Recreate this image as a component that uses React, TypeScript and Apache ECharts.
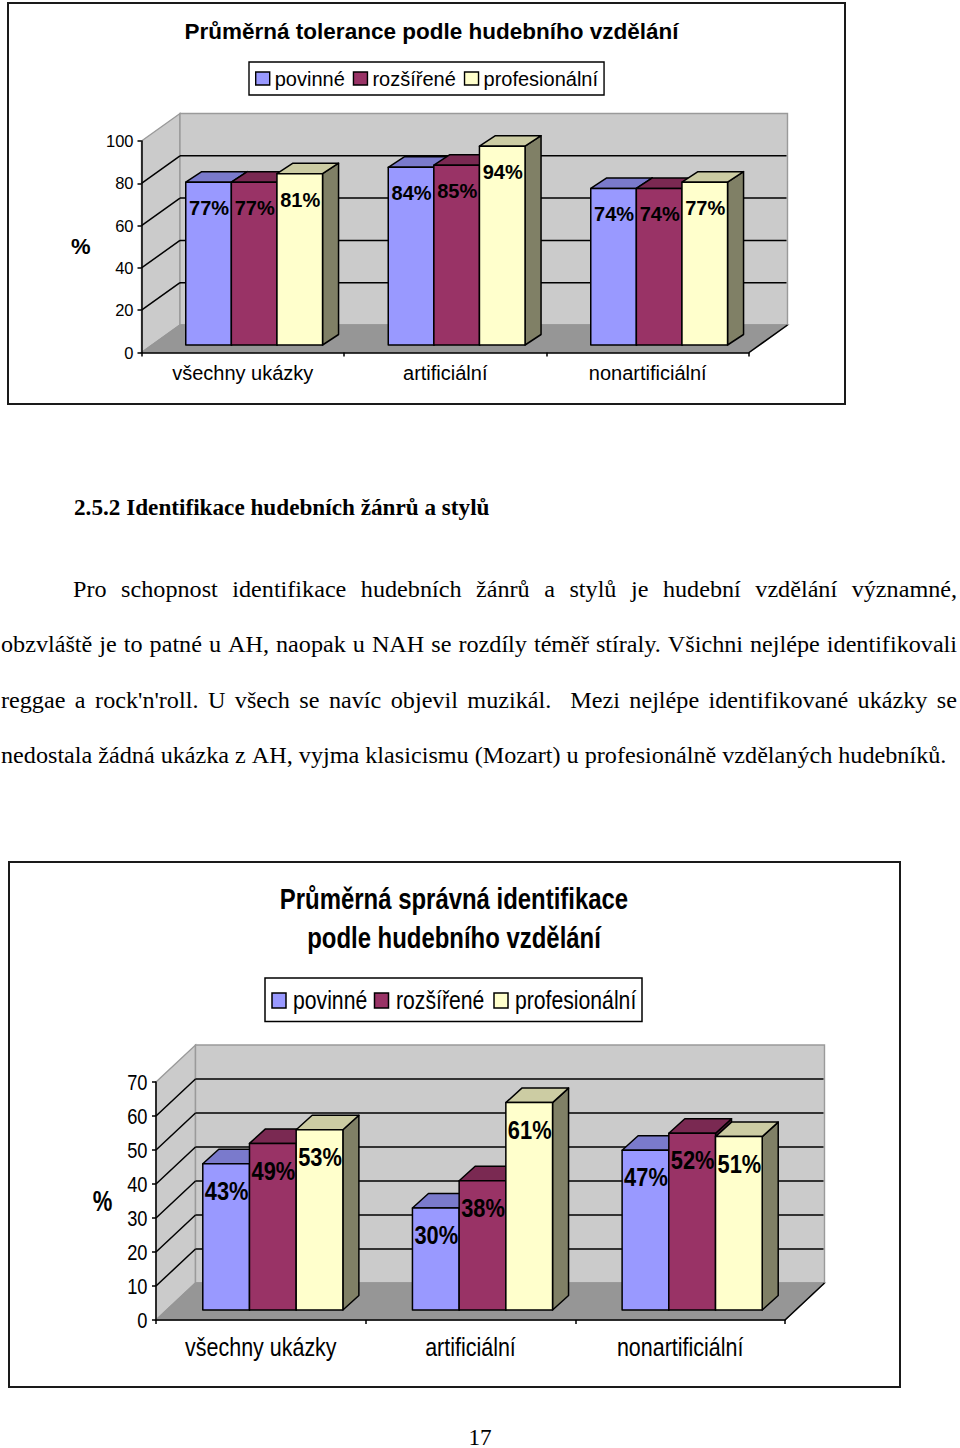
import React, { useEffect, useRef } from "react";
import * as echarts from "echarts";

const categories = ["všechny ukázky", "artificiální", "nonartificiální"];
const seriesNames = ["povinné", "rozšířené", "profesionální"];

const toleranceBasic = [77, 84, 74];
const toleranceExtended = [77, 85, 74];
const toleranceProfessional = [81, 94, 77];

const identificationBasic = [43, 30, 47];
const identificationExtended = [49, 38, 52];
const identificationProfessional = [53, 61, 51];

const toleranceTicks = [0, 20, 40, 60, 80, 100];
const identificationTicks = [0, 10, 20, 30, 40, 50, 60, 70];

const toleranceTitle = "Průměrná tolerance podle hudebního vzdělání";
const identificationTitleLines = ["Průměrná správná identifikace", "podle hudebního vzdělání"];
const axisName = "%";
const heading = "2.5.2 Identifikace hudebních žánrů a stylů";
const paragraphLines = [
  "Pro schopnost identifikace hudebních žánrů a stylů je hudební vzdělání významné,",
  "obzvláště je to patné u AH, naopak u NAH se rozdíly téměř stíraly. Všichni nejlépe identifikovali",
  "reggae a rock'n'roll. U všech se navíc objevil muzikál.  Mezi nejlépe identifikované ukázky se",
  "nedostala žádná ukázka z AH, vyjma klasicismu (Mozart) u profesionálně vzdělaných hudebníků.",
];
const pageNumber = "17";

const faceColors = ["#9999FF", "#993366", "#FFFFCC"];
const topColors = ["#7A7ACC", "#7A2952", "#CCCCA3"];
const sideColors = ["#4D4D80", "#4D1A33", "#808066"];
const WALL = "#CBCBCB";
const FLOOR = "#969696";
const WALL_EDGE = "#9A9A9A";
const SERIF = "'Liberation Serif', 'Times New Roman', serif";
const SANS = "'Liberation Sans', Arial, sans-serif";

type Geometry = {
  backX: number; backY: number; barW: number; offX: number; offY: number;
  depthX: number; depthY: number; labelDy: number; labelSize: number; labelScale: number; lw: number;
};

const geomA: Geometry = { backX: 38.5, backY: 27.5, barW: 45.6, offX: 11.4, offY: 7.5, depthX: 16, depthY: 10.5, labelDy: 26, labelSize: 20, labelScale: 1, lw: 1.5 };
const geomB: Geometry = { backX: 39.5, backY: 37, barW: 46.7, offX: 12, offY: 10, depthX: 16, depthY: 14.5, labelDy: 27, labelSize: 26, labelScale: 0.84, lw: 1.5 };

function squeezed(text: string, x: number, y: number, size: number, scale: number, bold: boolean, align: string): any {
  return {
    type: "text",
    x,
    y,
    scaleX: scale,
    style: {
      text,
      fill: "#000",
      fontFamily: SANS,
      fontSize: size,
      fontWeight: bold ? "bold" : "normal",
      textAlign: align,
      textVerticalAlign: "middle",
    },
  };
}

function wallsSeries(gridIndex: number, ticks: number[], g: Geometry, squeezedAxis: boolean): any {
  return {
    type: "custom",
    name: "walls",
    xAxisIndex: gridIndex,
    yAxisIndex: gridIndex,
    z: 1,
    silent: true,
    data: [[0, 0]],
    encode: { x: 0, y: 1 },
    renderItem: (params: any, api: any) => {
      const cs = params.coordSys;
      const L = cs.x;
      const R = cs.x + cs.width;
      const T = cs.y;
      const B = cs.y + cs.height;
      const dx = g.backX;
      const dy = g.backY;
      const poly = (points: number[][], fill: string, stroke: string) => ({
        type: "polygon",
        shape: { points },
        style: { fill, stroke, lineWidth: 1.4 },
      });
      const children: any[] = [
        poly([[L, T], [L + dx, T - dy], [L + dx, B - dy], [L, B]], WALL, WALL_EDGE),
        poly([[L + dx, T - dy], [R + dx, T - dy], [R + dx, B - dy], [L + dx, B - dy]], WALL, WALL_EDGE),
        poly([[L, B], [L + dx, B - dy], [R + dx, B - dy], [R, B]], FLOOR, FLOOR),
        { type: "line", shape: { x1: R, y1: B, x2: R + dx, y2: B - dy }, style: { stroke: "#000", lineWidth: 1.5 } },
      ];
      ticks.slice(1, -1).forEach((t) => {
        const y = api.coord([0, t])[1];
        children.push({ type: "line", shape: { x1: L, y1: y, x2: L + dx, y2: y - dy }, style: { stroke: "#000", lineWidth: 1.5 } });
        children.push({ type: "line", shape: { x1: L + dx, y1: y - dy, x2: R + dx - 1, y2: y - dy }, style: { stroke: "#000", lineWidth: 1.5 } });
      });
      if (squeezedAxis) {
        ticks.forEach((t) => {
          children.push(squeezed(String(t), L - 8.5, api.coord([0, t])[1], 22, 0.83, false, "right"));
        });
        categories.forEach((c, i) => {
          children.push(squeezed(c, api.coord([i, 0])[0], B + 27, 26, 0.826, false, "center"));
        });
        children.push(squeezed(axisName, L - 53.5, (T + B) / 2, 29, 0.76, true, "center"));
      }
      return { type: "group", children };
    },
  };
}

function barSeries(gridIndex: number, idx: number, values: number[], g: Geometry): any {
  return {
    type: "custom",
    name: seriesNames[idx],
    xAxisIndex: gridIndex,
    yAxisIndex: gridIndex,
    z: 2 + idx,
    itemStyle: { color: faceColors[idx] },
    data: values.map((v, i) => [i, v]),
    encode: { x: 0, y: 1 },
    renderItem: (_params: any, api: any) => {
      const cat = api.value(0);
      const val = api.value(1);
      const top = api.coord([cat, val]);
      const base = api.coord([cat, 0]);
      const x0 = top[0] + (idx - 1.5) * g.barW + g.offX;
      const x1 = x0 + g.barW;
      const yT = top[1] - g.offY;
      const yB = base[1] - g.offY;
      const { depthX: dx, depthY: dy } = g;
      const edge = { stroke: "#000", lineWidth: g.lw, lineJoin: "round" };
      return {
        type: "group",
        children: [
          { type: "polygon", shape: { points: [[x1, yT], [x1 + dx, yT - dy], [x1 + dx, yB - dy], [x1, yB]] }, style: { fill: sideColors[idx], ...edge } },
          { type: "polygon", shape: { points: [[x0, yT], [x0 + dx, yT - dy], [x1 + dx, yT - dy], [x1, yT]] }, style: { fill: topColors[idx], ...edge } },
          { type: "rect", shape: { x: x0, y: yT, width: g.barW, height: yB - yT }, style: { fill: faceColors[idx], ...edge } },
          squeezed(`${val}%`, (x0 + x1) / 2 + 0.5, yT + g.labelDy, g.labelSize, g.labelScale, true, "center"),
        ],
      };
    },
  };
}

function measure(text: string, font: string): number {
  const ctx = document.createElement("canvas").getContext("2d") as CanvasRenderingContext2D;
  ctx.font = font;
  return ctx.measureText(text).width;
}

const TEXT_SIZE = 23.2;
const TEXT_STRETCH = 1.042;

function lineWords(line: string, left: number, right: number | null, y: number): any[] {
  const font = `${TEXT_SIZE}px ${SERIF}`;
  const tokens = line.split(" ");
  const words = tokens.filter((t) => t.length > 0);
  const gaps = tokens.length - 1;
  const wordW = words.reduce((s, w) => s + measure(w, font) * TEXT_STRETCH, 0);
  const spaceW = right === null ? measure(" ", font) * TEXT_STRETCH : (right - left - wordW) / gaps;
  let x = left;
  const out: any[] = [];
  tokens.forEach((t) => {
    if (t.length > 0) {
      out.push({
        type: "text",
        x,
        y,
        scaleX: TEXT_STRETCH,
        style: { text: t, fontFamily: SERIF, fontSize: TEXT_SIZE, fill: "#000", textVerticalAlign: "middle", textAlign: "left" },
      });
      x += measure(t, font) * TEXT_STRETCH;
    }
    x += spaceW;
  });
  return out;
}

function squeezedLegend(): any[] {
  const markerX = [272, 374.5, 494];
  const textX = [293, 396, 515];
  const out: any[] = [
    { type: "rect", shape: { x: 265, y: 978, width: 377, height: 43.5 }, style: { fill: "#fff", stroke: "#000", lineWidth: 1.5 } },
  ];
  seriesNames.forEach((name, i) => {
    out.push({ type: "rect", shape: { x: markerX[i], y: 993, width: 14, height: 15 }, style: { fill: faceColors[i], stroke: "#000", lineWidth: 1.5 } });
    out.push(squeezed(name, textX[i], 1000.5, 26, 0.815, false, "left"));
  });
  return out;
}

function buildOption(): any {
  const frame = (x: number, y: number, width: number, height: number) => ({
    type: "rect",
    shape: { x, y, width, height },
    style: { fill: "none", stroke: "#1a1a1a", lineWidth: 2 },
  });
  const axisBase = {
    axisLine: { show: true, onZero: false, lineStyle: { color: "#000", width: 1.5 } },
    axisTick: { show: true, length: 4, lineStyle: { color: "#000", width: 1.5 } },
    splitLine: { show: false },
    z: 6,
  };
  return {
    animation: false,
    backgroundColor: "#fff",
    title: {
      text: toleranceTitle,
      left: 426.5,
      top: 15,
      textAlign: "center",
      textStyle: { fontFamily: SANS, fontSize: 22.5, fontWeight: "bold", color: "#000" },
    },
    legend: {
      data: seriesNames,
      left: 249,
      top: 62,
      icon: "rect",
      selectedMode: false,
      itemWidth: 14,
      itemHeight: 13,
      itemGap: 8,
      padding: [6.5, 6, 6.5, 6],
      backgroundColor: "#fff",
      borderColor: "#000",
      borderWidth: 1.4,
      itemStyle: { borderColor: "#000", borderWidth: 1.4 },
      textStyle: { fontFamily: SANS, fontSize: 20, color: "#000" },
    },
    grid: [
      { left: 141.5, top: 141, width: 607.5, height: 211.5 },
      { left: 156, top: 1082, width: 629, height: 238 },
    ],
    xAxis: [
      {
        ...axisBase,
        type: "category",
        gridIndex: 0,
        data: categories,
        axisLabel: { color: "#000", fontFamily: SANS, fontSize: 20, margin: 10, interval: 0 },
      },
      {
        ...axisBase,
        type: "category",
        gridIndex: 1,
        data: categories,
        axisLabel: { show: false },
      },
    ],
    yAxis: [
      {
        ...axisBase,
        type: "value",
        gridIndex: 0,
        min: 0,
        max: 100,
        interval: 20,
        name: axisName,
        nameLocation: "middle",
        nameRotate: 0,
        nameGap: 51,
        nameTextStyle: { color: "#000", fontFamily: SANS, fontSize: 22, fontWeight: "bold" },
        axisLabel: { color: "#000", fontFamily: SANS, fontSize: 16.5, margin: 8 },
      },
      {
        ...axisBase,
        type: "value",
        gridIndex: 1,
        min: 0,
        max: 70,
        interval: 10,
        axisLabel: { show: false },
      },
    ],
    series: [
      wallsSeries(0, toleranceTicks, geomA, false),
      barSeries(0, 0, toleranceBasic, geomA),
      barSeries(0, 1, toleranceExtended, geomA),
      barSeries(0, 2, toleranceProfessional, geomA),
      wallsSeries(1, identificationTicks, geomB, true),
      barSeries(1, 0, identificationBasic, geomB),
      barSeries(1, 1, identificationExtended, geomB),
      barSeries(1, 2, identificationProfessional, geomB),
    ],
    graphic: {
      elements: [
        frame(8, 3, 837, 401),
        frame(9, 862, 891, 525),
        squeezed(identificationTitleLines[0], 454, 899, 29, 0.825, true, "center"),
        squeezed(identificationTitleLines[1], 454, 938, 29, 0.825, true, "center"),
        ...squeezedLegend(),
        {
          type: "text",
          x: 74,
          y: 507,
          style: { text: heading, fontFamily: SERIF, fontSize: TEXT_SIZE, fontWeight: "bold", fill: "#000", textVerticalAlign: "middle" },
        },
        ...lineWords(paragraphLines[0], 73, 957, 589),
        ...lineWords(paragraphLines[1], 1, 957, 644),
        ...lineWords(paragraphLines[2], 1, 957, 700),
        ...lineWords(paragraphLines[3], 1, null, 755),
        {
          type: "text",
          x: 480,
          y: 1437,
          style: { text: pageNumber, fontFamily: SERIF, fontSize: TEXT_SIZE, fill: "#000", textAlign: "center", textVerticalAlign: "middle" },
        },
      ],
    },
  };
}

export default function App() {
  const ref = useRef<HTMLDivElement>(null);
  useEffect(() => {
    document.body.style.margin = "0";
    const chart = echarts.init(ref.current as HTMLDivElement, undefined, { renderer: "svg", width: 960, height: 1448 });
    chart.setOption(buildOption());
    return () => chart.dispose();
  }, []);
  return <div ref={ref} style={{ position: "absolute", left: 0, top: 0, width: 960, height: 1448 }} />;
}
